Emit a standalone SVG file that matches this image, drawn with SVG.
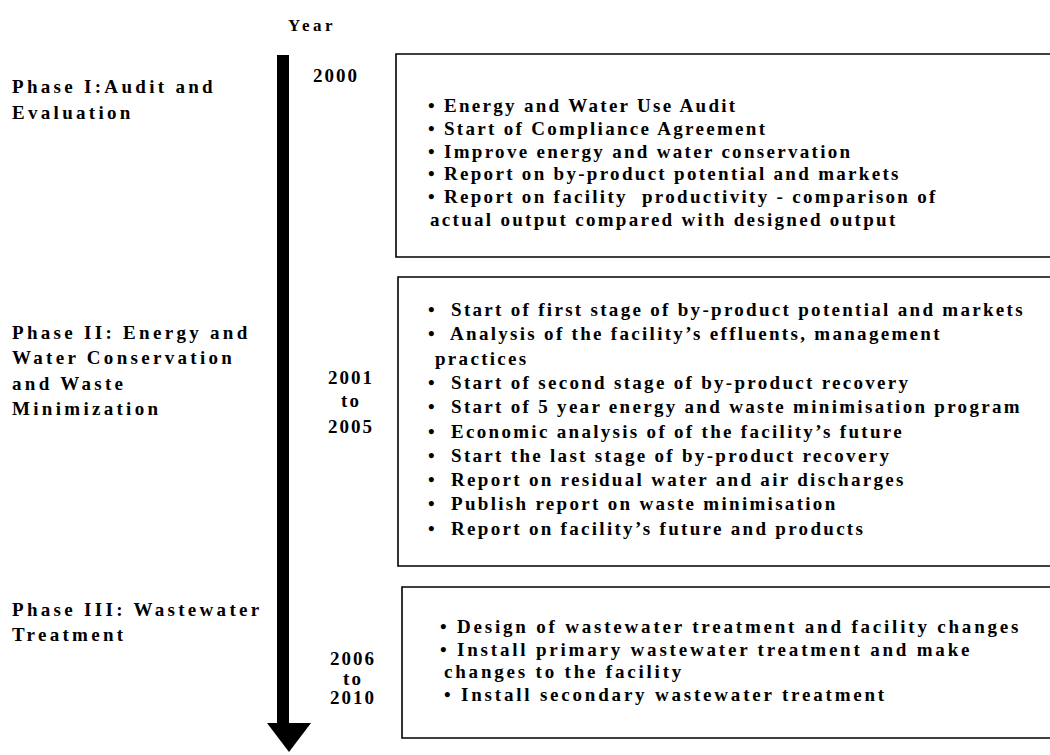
<svg xmlns="http://www.w3.org/2000/svg" width="1050" height="755" viewBox="0 0 1050 755">
<style>
text{font-family:"Liberation Serif","Times New Roman",serif;font-weight:bold;fill:#000;white-space:pre}
.lab{font-size:19px;letter-spacing:3.3px}
.yr{font-size:19px;letter-spacing:2px;text-anchor:middle}
.it{font-size:19px;letter-spacing:2.3px}
.it3{font-size:19px;letter-spacing:2.8px}
.box{fill:#fff;stroke:#000;stroke-width:1.6}
</style>
<rect width="1050" height="755" fill="#fff"/>
<g id="axis">
<text x="312" y="31" style="font-size:17px;letter-spacing:3.5px;text-anchor:middle">Year</text>
<rect x="277" y="55" width="12" height="670" fill="#000"/>
<polygon points="267,723 311,723 289,752" fill="#000"/>
</g>
<g id="phase1">
<text class="lab" x="12" y="93">Phase I:Audit and</text>
<text class="lab" x="12" y="119">Evaluation</text>
<text class="yr" x="336" y="82">2000</text>
<path class="box" d="M1052,54 H396 V257 H1052"/>
<text class="it" x="428" y="112">• Energy and Water Use Audit</text>
<text class="it" x="428" y="135">• Start of Compliance Agreement</text>
<text class="it" x="428" y="158">• Improve energy and water conservation</text>
<text class="it" x="428" y="180">• Report on by-product potential and markets</text>
<text class="it" x="428" y="203">• Report on facility  productivity - comparison of</text>
<text class="it" x="430" y="226">actual output compared with designed output</text>
</g>
<g id="phase2">
<text class="lab" x="12" y="339">Phase II: Energy and</text>
<text class="lab" x="12" y="364">Water Conservation</text>
<text class="lab" x="12" y="390">and Waste</text>
<text class="lab" x="12" y="415">Minimization</text>
<text class="yr" x="351" y="384">2001</text>
<text class="yr" x="351" y="407">to</text>
<text class="yr" x="351" y="433">2005</text>
<path class="box" d="M1052,277 H398 V566 H1052"/>
<text class="it" x="428" y="316">•  Start of first stage of by-product potential and markets</text>
<text class="it" x="428" y="340.3">•  Analysis of the facility’s effluents, management</text>
<text class="it" x="435" y="364.6">practices</text>
<text class="it" x="428" y="388.9">•  Start of second stage of by-product recovery</text>
<text class="it" x="428" y="413.2">•  Start of 5 year energy and waste minimisation program</text>
<text class="it" x="428" y="437.5">•  Economic analysis of of the facility’s future</text>
<text class="it" x="428" y="461.8">•  Start the last stage of by-product recovery</text>
<text class="it" x="428" y="486.1">•  Report on residual water and air discharges</text>
<text class="it" x="428" y="510.4">•  Publish report on waste minimisation</text>
<text class="it" x="428" y="534.7">•  Report on facility’s future and products</text>
</g>
<g id="phase3">
<text class="lab" x="12" y="616">Phase III: Wastewater</text>
<text class="lab" x="12" y="641">Treatment</text>
<text class="yr" x="353" y="665">2006</text>
<text class="yr" x="353" y="685">to</text>
<text class="yr" x="353" y="704">2010</text>
<path class="box" d="M1052,587 H402 V738 H1052"/>
<text class="it3" x="440" y="633">• Design of wastewater treatment and facility changes</text>
<text class="it3" x="440" y="656">• Install primary wastewater treatment and make</text>
<text class="it3" x="444" y="678">changes to the facility</text>
<text class="it3" x="444" y="701">• Install secondary wastewater treatment</text>
</g>
</svg>
